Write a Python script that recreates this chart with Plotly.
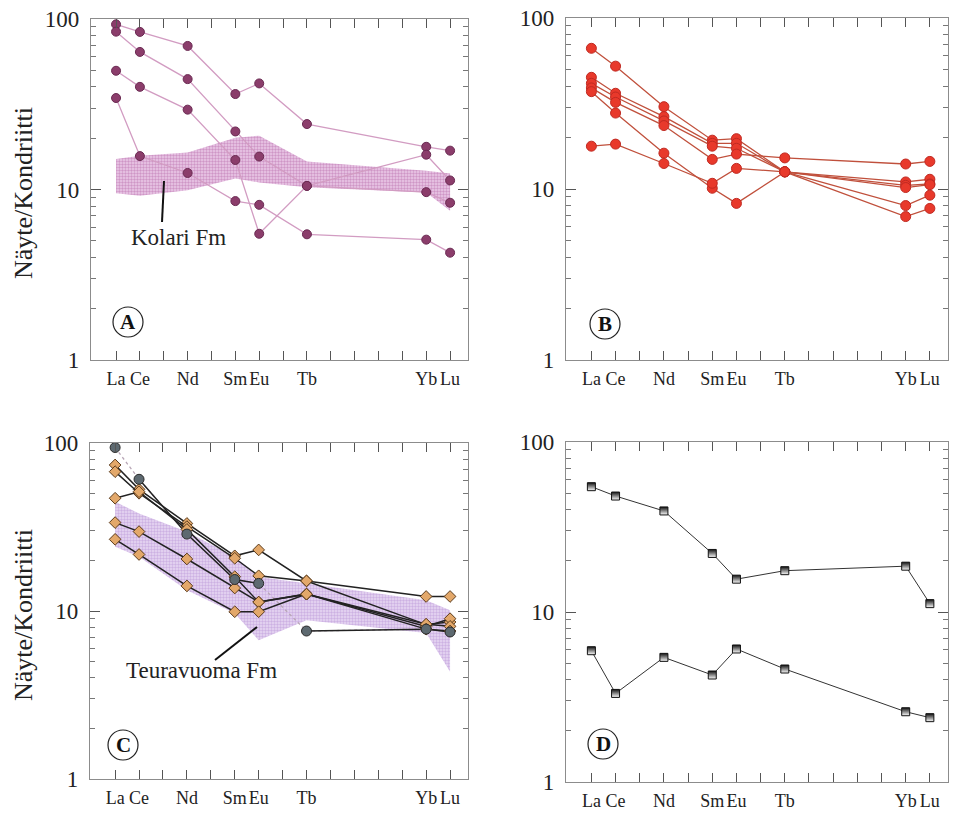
import plotly.graph_objects as go

# Chondrite-normalised REE patterns, four panels (A-D)
elements = ["La", "Ce", "Pr", "Nd", "Pm", "Sm", "Eu", "Gd", "Tb", "Dy", "Ho", "Er", "Tm", "Yb", "Lu"]
analysed = ["La", "Ce", "Nd", "Sm", "Eu", "Tb", "Yb", "Lu"]

# Panel A - samples (La, Ce, Nd, Sm, Eu, Tb, Yb, Lu)
a_samples = [
    [93.0, 84.0, 69.5, 36.3, 41.9, 24.2, 17.8, 16.9],
    [84.3, 64.1, 44.4, 21.9, 15.6, 10.5, 9.65, 8.36],
    [49.7, 40.0, 29.4, 14.9, 5.5, 10.5, 16.0, 11.3],
    [34.4, 15.7, 12.5, 8.55, 8.13, 5.46, 5.08, 4.26],
]
kolari_upper = [15.1, 15.8, 16.5, 20.1, 20.7, 14.6, 12.9, 12.4]
kolari_lower = [9.5, 9.2, 9.9, 11.6, 11.0, 10.3, 9.6, 7.5]

# Panel B - samples
b_samples = [
    [66.5, 52.3, 30.3, 19.3, 19.7, 12.6, 6.9, 7.7],
    [45.0, 36.3, 26.5, 18.5, 18.5, 12.6, 8.0, 9.2],
    [41.5, 34.5, 25.0, 17.8, 17.3, 12.6, 11.0, 11.4],
    [39.0, 32.1, 23.5, 14.9, 16.0, 15.2, 14.0, 14.5],
    [37.1, 27.8, 16.2, 10.1, 8.24, 12.6, 10.5, 10.7],
    [17.8, 18.3, 14.1, 10.8, 13.2, 12.6, 10.2, 10.6],
]

# Panel C - one sample drawn with circles, the rest with diamonds
c_circle = [94.0, 60.8, 28.7, 15.4, 14.6, 7.6, 7.8, 7.5]
c_diamonds = [
    [74.0, 53.0, 33.2, 21.3, 23.1, 15.1, 12.2, 12.2],
    [67.5, 50.2, 31.8, 20.6, 16.2, 15.1, 8.3, 8.6],
    [46.9, 51.3, 30.6, 16.0, 11.3, 12.6, 8.1, 9.0],
    [33.6, 29.7, 20.4, 13.7, 11.3, 12.6, 8.35, 8.1],
    [26.7, 21.7, 14.1, 9.9, 9.9, 12.6, 7.8, 7.6],
]
teura_upper = [44.7, 38.1, 29.6, 21.0, 16.0, 14.6, 11.6, 10.1]
teura_lower = [24.1, 21.0, 13.3, 9.7, 6.7, 8.8, 7.4, 4.35]

# Panel D - samples
d_samples = [
    [54.6, 48.1, 39.3, 22.1, 15.6, 17.5, 18.6, 11.2],
    [5.92, 3.32, 5.41, 4.26, 6.06, 4.62, 2.59, 2.39],
]

y_tick_vals = [1, 10, 100]
y_tick_text = ["1", "10", "100"]
panel_letters = ["A", "B", "C", "D"]
y_title = "Näyte/Kondriitti"

W, H = 958, 813
SERIF = "Liberation Serif"
AXIS_GREY = "#8c8c8c"

xpos = [elements.index(e) for e in analysed]
tick_text = [e if e in analysed else "" for e in elements]


def fx(px):
    return px / W


def fy(py):
    return 1 - py / H


# pixel boxes of the four plot areas (left, right, top, bottom)
boxes = [(91, 468, 19, 360), (566, 948, 18, 360), (90, 468, 443, 779), (566, 948, 442, 782)]

fig = go.Figure()


def add_band(ax, upper, lower, fg, bg):
    fig.add_trace(go.Scatter(x=xpos, y=lower, mode="lines", line=dict(width=0, color=bg),
                             xaxis="x" + ax, yaxis="y" + ax, hoverinfo="skip"))
    fig.add_trace(go.Scatter(x=xpos, y=upper, mode="lines", line=dict(width=0, color=bg),
                             fill="tonexty", fillcolor=bg,
                             fillpattern=dict(shape=".", fgcolor=fg, bgcolor=bg, size=3, solidity=0.5),
                             xaxis="x" + ax, yaxis="y" + ax, hoverinfo="skip"))


def add_series(ax, vals, line, marker):
    fig.add_trace(go.Scatter(x=xpos, y=vals, mode="lines+markers", line=line, marker=marker,
                             xaxis="x" + ax, yaxis="y" + ax))


# Panel A
add_band("", kolari_upper, kolari_lower, "#b060a4", "rgba(236,204,232,1)")
for s in a_samples:
    add_series("", s, dict(color="#d29cc2", width=1.3),
               dict(size=9, color="#8b3d6b", line=dict(color="#6a2a52", width=1)))

# Panel B
for s in b_samples:
    add_series("2", s, dict(color="#c0503c", width=1.3),
               dict(size=10, color="#e8392b", line=dict(color="#c02a22", width=1)))

# Panel C
add_band("3", teura_upper, teura_lower, "#b08ad0", "rgba(232,216,244,1)")
fig.add_trace(go.Scatter(x=xpos, y=c_circle, mode="lines", line=dict(color="#b8a6b6", width=1.3, dash="dot"),
                         xaxis="x3", yaxis="y3"))
solid_runs = [(1, 5), (5, 8)]
sx, sy = [], []
for i0, i1 in solid_runs:
    sx += xpos[i0:i1] + [None]
    sy += c_circle[i0:i1] + [None]
fig.add_trace(go.Scatter(x=sx, y=sy, mode="lines", line=dict(color="#222222", width=1.5),
                         xaxis="x3", yaxis="y3"))
for s in c_diamonds:
    add_series("3", s, dict(color="#222222", width=1.5),
               dict(symbol="diamond", size=9, color="#e3a86a", line=dict(color="#5a3a1a", width=1)))
fig.add_trace(go.Scatter(x=xpos, y=c_circle, mode="markers",
                         marker=dict(size=10, color="#5d6970", line=dict(color="#2a2a2a", width=1)),
                         xaxis="x3", yaxis="y3"))

# Panel D
for s in d_samples:
    add_series("4", s, dict(color="#333333", width=1),
               dict(symbol="square", size=8, color="#111111",
                    gradient=dict(type="vertical", color="#ffffff"),
                    line=dict(color="#111111", width=1)))

layout = dict(width=W, height=H, margin=dict(l=0, r=0, t=0, b=0, autoexpand=False),
              paper_bgcolor="white", plot_bgcolor="white", showlegend=False)

minor_vals = [v * m for m in (1, 10) for v in range(2, 10)]
for i, (l, r, t, b) in enumerate(boxes):
    sfx = "" if i == 0 else str(i + 1)
    layout["xaxis" + sfx] = dict(
        domain=[fx(l), fx(r)], anchor="y" + sfx, range=[-1.05, 14.75], automargin=False,
        tickmode="array", tickvals=list(range(len(elements))), ticktext=tick_text, tickangle=0,
        ticks="inside", ticklen=9, tickwidth=1, tickcolor="#555555",
        showline=True, linecolor=AXIS_GREY, linewidth=1.2, mirror="ticks",
        showgrid=False, zeroline=False, ticklabelstandoff=2,
        tickfont=dict(family=SERIF, size=18, color="#222222"))
    layout["yaxis" + sfx] = dict(
        domain=[fy(b), fy(t)], anchor="x" + sfx, type="log", range=[0, 2], automargin=False,
        tickmode="array", tickvals=y_tick_vals, ticktext=y_tick_text,
        ticks="inside", ticklen=10, tickwidth=1, tickcolor="#555555",
        minor=dict(tickmode="array", tickvals=minor_vals, ticks="inside", ticklen=5,
                   tickcolor="#777777", showgrid=False),
        showline=True, linecolor=AXIS_GREY, linewidth=1.2, mirror="ticks",
        showgrid=False, zeroline=False, ticklabelstandoff=6,
        tickfont=dict(family=SERIF, size=23, color="#222222"))

fig.update_layout(**layout)

# circled panel letters
letter_pos = [(128, 322), (605, 324), (123, 745), (603, 744)]
for i, ((cx, cy), letter) in enumerate(zip(letter_pos, panel_letters)):
    l, r, t, b = boxes[i]
    sfx = "" if i == 0 else str(i + 1)
    dx = (cx - l) / (r - l)
    dy = (b - cy) / (b - t)
    fig.add_shape(type="circle", xref="x" + sfx + " domain", yref="y" + sfx + " domain",
                  xsizemode="pixel", ysizemode="pixel", xanchor=dx, yanchor=dy,
                  x0=-15, x1=15, y0=-15, y1=15, line=dict(color="#222222", width=1.2))
    fig.add_annotation(x=dx, y=dy, xref="x" + sfx + " domain", yref="y" + sfx + " domain",
                       text="<b>" + letter + "</b>", showarrow=False, xanchor="center", yanchor="middle",
                       font=dict(family=SERIF, size=21, color="#111111"))

# y-axis titles
for cy in (193, 615):
    fig.add_annotation(x=fx(23), y=fy(cy), xref="paper", yref="paper", text=y_title, textangle=-90,
                       showarrow=False, xanchor="center", yanchor="middle",
                       font=dict(family=SERIF, size=26, color="#222222"))

# formation labels with leader lines
fig.add_annotation(x=fx(178), y=fy(237), xref="paper", yref="paper", text="Kolari Fm", showarrow=False,
                   xanchor="center", yanchor="middle", font=dict(family=SERIF, size=23, color="#222222"))
fig.add_shape(type="line", xref="paper", yref="paper", x0=fx(164), y0=fy(181), x1=fx(162), y1=fy(222),
              line=dict(color="#111111", width=2))
fig.add_annotation(x=fx(201), y=fy(670), xref="paper", yref="paper", text="Teuravuoma Fm", showarrow=False,
                   xanchor="center", yanchor="middle", font=dict(family=SERIF, size=23, color="#222222"))
fig.add_shape(type="line", xref="paper", yref="paper", x0=fx(257), y0=fy(627), x1=fx(215), y1=fy(660),
              line=dict(color="#111111", width=2))

fig.write_html("out.html")
